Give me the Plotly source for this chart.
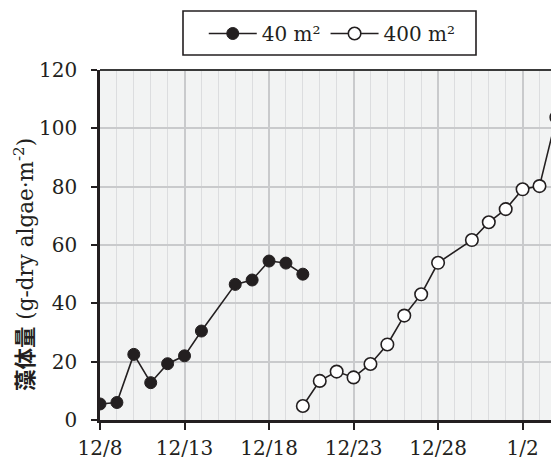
import plotly.graph_objects as go

# ---- data ----
dates_40 = ["2023-12-08", "2023-12-09", "2023-12-10", "2023-12-11", "2023-12-12",
            "2023-12-13", "2023-12-14", "2023-12-16", "2023-12-17", "2023-12-18",
            "2023-12-19", "2023-12-20"]
vals_40 = [5.5, 6.0, 22.5, 12.8, 19.3, 22.0, 30.5, 46.5, 48.0, 54.5, 53.8, 50.0]

dates_400 = ["2023-12-20", "2023-12-21", "2023-12-22", "2023-12-23", "2023-12-24",
             "2023-12-25", "2023-12-26", "2023-12-27", "2023-12-28", "2023-12-30",
             "2023-12-31", "2024-01-01", "2024-01-02", "2024-01-03", "2024-01-04"]
vals_400 = [4.8, 13.4, 16.6, 14.6, 19.2, 25.9, 35.8, 43.1, 53.9, 61.7,
            67.8, 72.3, 79.1, 80.2, 103.8]

tick_dates = ["2023-12-08", "2023-12-13", "2023-12-18", "2023-12-23", "2023-12-28", "2024-01-02"]
tick_labels = ["12/8", "12/13", "12/18", "12/23", "12/28", "1/2"]
y_ticks = [0, 20, 40, 60, 80, 100, 120]

FONT = "DejaVu Serif, Noto Sans CJK JP, serif"
INK = "#231f20"

# plot-area pixel geometry used to place the legend frame
PL, PW, PB, PH = 100, 451, 420, 350


def px_x(p):
    return (p - PL) / PW


def px_y(p):
    return (PB - p) / PH


fig = go.Figure()
fig.add_trace(go.Scatter(
    x=dates_40, y=vals_40, name="40 m²", mode="lines+markers",
    line=dict(color=INK, width=1.6),
    marker=dict(symbol="circle", size=12, color=INK, line=dict(color=INK, width=1)),
))
fig.add_trace(go.Scatter(
    x=dates_400, y=vals_400, name="400 m²", mode="lines+markers",
    line=dict(color=INK, width=1.6),
    marker=dict(symbol="circle", size=12.5, color="white", line=dict(color=INK, width=1.6)),
))

fig.update_layout(
    width=551, height=461,
    margin=dict(l=100, r=0, t=70, b=41),
    paper_bgcolor="white", plot_bgcolor="#f2f3f3",
    font=dict(family=FONT, size=20, color=INK),
    showlegend=True,
    legend=dict(
        orientation="h", x=0.515, xanchor="center", y=px_y(14), yanchor="top",
        borderwidth=0, bgcolor="rgba(0,0,0,0)",
        font=dict(family=FONT, size=20, color=INK),
        itemwidth=48, traceorder="normal", tracegroupgap=10,
    ),
    xaxis=dict(
        type="date",
        range=["2023-12-08", "2024-01-03 16:20"],
        tickvals=tick_dates, ticktext=tick_labels,
        showgrid=True, gridcolor="#c9cacc", gridwidth=1.5,
        minor=dict(dtick=86400000, tick0="2023-12-08", showgrid=True,
                   gridcolor="#dcdddf", gridwidth=1.2),
        showline=True, linecolor=INK, linewidth=2.5,
        ticks="outside", ticklen=7, tickwidth=2, tickcolor=INK,
        tickfont=dict(family=FONT, size=20, color=INK),
        ticklabelstandoff=1,
        zeroline=False,
    ),
    yaxis=dict(
        range=[0, 120], tickvals=y_ticks,
        showgrid=True, gridcolor="#c9cacc", gridwidth=1.5,
        showline=True, linecolor=INK, linewidth=2.5,
        ticks="outside", ticklen=6, tickwidth=2, tickcolor=INK,
        tickfont=dict(family=FONT, size=20, color=INK),
        ticklabelstandoff=10,
        zeroline=False,
    ),
    shapes=[
        dict(type="line", xref="paper", yref="paper", x0=0, x1=1, y0=1, y1=1,
             line=dict(color="#3a3a3a", width=1.8)),
        dict(type="rect", xref="paper", yref="paper",
             x0=px_x(183), x1=px_x(476), y0=px_y(55), y1=px_y(11),
             line=dict(color=INK, width=1.6), fillcolor="white", layer="below"),
    ],
    annotations=[dict(
        text="<b>藻体量</b> (g-dry algae·m<sup>-2</sup>)",
        xref="paper", yref="paper", x=-76 / 451, y=(420 - 265) / 350,
        xanchor="center", yanchor="middle", textangle=-90, showarrow=False,
        font=dict(family=FONT, size=21.5, color=INK),
    )],
)

fig.write_html("out.html")
